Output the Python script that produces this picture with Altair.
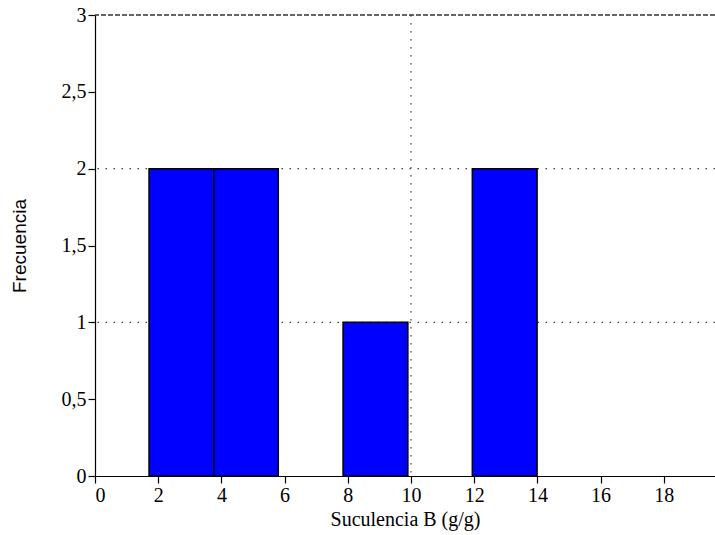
import altair as alt
import pandas as pd

# Histogram bins of "Suculencia B" (g/g) and their frequencies
bin_start = [1.71, 3.76, 5.80, 7.85, 9.90, 11.94]
bin_end = [3.76, 5.80, 7.85, 9.90, 11.94, 13.99]
counts = [2, 2, 0, 1, 0, 2]

x_ticks = [0, 2, 4, 6, 8, 10, 12, 14, 16, 18]
y_ticks = [0, 0.5, 1, 1.5, 2, 2.5, 3]
x_max = 19.62
y_max = 3

grid_y = [1, 2]
grid_x = [10]
top_y = [3]

bars_df = pd.DataFrame({"start": bin_start, "end": bin_end, "count": counts})

x_scale = alt.Scale(domain=[0, x_max], nice=False, zero=False)
y_scale = alt.Scale(domain=[0, y_max], nice=False)

serif = "Times New Roman, Liberation Serif, serif"
sans = "Arial, Liberation Sans, sans-serif"

common = dict(
    domainColor="black",
    domainWidth=1.2,
    tickColor="black",
    tickWidth=1.2,
    tickSize=7,
    labelFont=serif,
    labelFontSize=20,
    labelColor="black",
    labelPadding=2,
    titleFontWeight="normal",
    titleColor="black",
    grid=False,
)

x_axis = alt.Axis(
    title="Suculencia B (g/g)",
    values=x_ticks,
    titleFont=serif,
    titleFontSize=20,
    titlePadding=4,
    **common,
)
y_axis = alt.Axis(
    title="Frecuencia",
    values=y_ticks,
    labelExpr="replace(format(datum.value, '.1~f'), '.', ',')",
    titleFont=sans,
    titleFontSize=19,
    titlePadding=32,
    **common,
)

dots = [1.5, 6.5]

hgrid = alt.Chart(pd.DataFrame({"g": grid_y})).mark_rule(
    color="#444", strokeDash=dots, strokeWidth=1.2
).encode(y=alt.Y("g:Q", scale=y_scale, axis=y_axis))

vgrid = alt.Chart(pd.DataFrame({"g": grid_x})).mark_rule(
    color="#444", strokeDash=dots, strokeWidth=1.2
).encode(x=alt.X("g:Q", scale=x_scale, axis=x_axis))

top_line = alt.Chart(pd.DataFrame({"g": top_y})).mark_rule(
    color="#333", strokeDash=[5, 2], strokeWidth=1.3
).encode(y=alt.Y("g:Q", scale=y_scale, axis=y_axis))

bars = alt.Chart(bars_df).transform_filter(
    alt.datum["count"] > 0
).mark_bar(color="#0000FF", stroke="black", strokeWidth=1.5).encode(
    x=alt.X("start:Q", scale=x_scale, axis=x_axis),
    x2="end:Q",
    y=alt.Y("count:Q", scale=y_scale, axis=y_axis),
    y2=alt.datum(0),
)

chart = (
    alt.layer(hgrid, vgrid, bars, top_line)
    .properties(
        width=620,
        height=461,
        padding={"left": 95, "top": 15, "right": 0, "bottom": 59},
        autosize="none",
        background="white",
    )
    .configure_view(stroke=None)
)

chart.save("out.html", embed_options={"renderer": "svg", "actions": False})
